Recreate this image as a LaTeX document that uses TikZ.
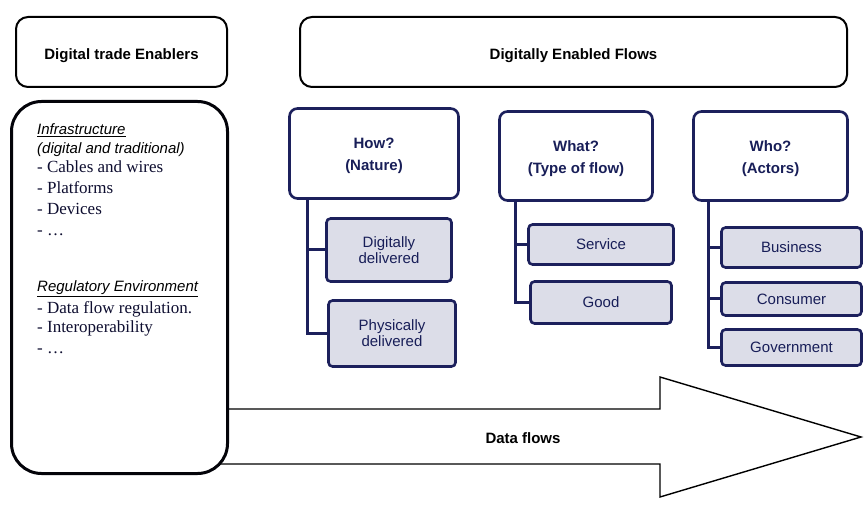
\documentclass[tikz,border=0pt]{standalone}
\usepackage{fontspec}
\setmainfont{Liberation Sans}
\newfontfamily\listserif{Liberation Serif}
\definecolor{navy}{RGB}{28,32,92}
\definecolor{leaffill}{RGB}{220,221,232}
\definecolor{navytext}{RGB}{24,30,88}
\definecolor{listtext}{RGB}{14,14,48}
\tikzset{
  titlebox/.style={draw=black, line width=2pt, rounded corners=12pt, fill=white,
    text height=15pt, text depth=0pt,
    font=\fontsize{15}{17}\selectfont\bfseries},
  enablerbox/.style={draw=black!90!navy, line width=3pt, rounded corners=30pt, fill=white},
  qbox/.style={draw=navy, line width=2.6pt, rounded corners=8pt, fill=white,
    text height=35pt, text depth=0pt,
    text=navytext, align=center, font=\fontsize{15}{22}\selectfont\bfseries},
  leaf/.style={draw=navy, line width=2.6pt, rounded corners=4pt, fill=leaffill,
    text=navytext, align=center, font=\fontsize{15}{16}\selectfont},
  branch/.style={draw=navy, line width=3pt},
  headtext/.style={anchor=base west, inner sep=0pt, font=\fontsize{15}{17}\selectfont\itshape},
  listline/.style={anchor=base west, inner sep=0pt, text=listtext,
    font=\fontsize{17}{20}\selectfont\listserif},
  flowarrow/.style={draw=black, line width=1.4pt, fill=white, line join=miter}
}
\begin{document}
\begin{tikzpicture}[x=1pt,y=-1pt]
\useasboundingbox (0,0) rectangle (864,510);

% the broad data-flow arrow, its tail tucked under the enablers panel
\draw[flowarrow] (150,409) -- (660,409) -- (660,377) -- (861,437)
  -- (660,497) -- (660,464) -- (150,464) -- cycle;
\node[inner sep=0pt, font=\fontsize{15}{17}\selectfont\bfseries] (dataflows) at (523,438.6) {Data flows};

% column headers
\node[titlebox, minimum width=211pt, minimum height=70pt] (enablers) at (121.5,52) {Digital trade Enablers};
\node[titlebox, minimum width=547pt, minimum height=70pt] (flows) at (573.5,52) {Digitally Enabled Flows};

% enablers panel
\node[enablerbox, minimum width=216pt, minimum height=372pt] (infra) at (119.5,287.5) {};
\node[headtext] (infrahead) at (37,135) {\underline{Infrastructure}};
\node[headtext] (infrasub) at (37,154) {(digital and traditional)};
\node[listline] (cables) at (37,173) {- Cables and wires};
\node[listline] (platforms) at (37,194) {- Platforms};
\node[listline] (devices) at (37,215) {- Devices};
\node[listline] (infradots) at (37,236) {- \dots};
\node[headtext] (reghead) at (37,292) {\underline{Regulatory Environment}};
\node[listline] (dataflowreg) at (37,313) {- Data flow regulation.};
\node[listline] (interop) at (37,333) {- Interoperability};
\node[listline] (regdots) at (37,353) {- \dots};

% question boxes
\node[qbox, minimum width=169pt, minimum height=90pt] (how) at (374,153.5) {How?\\(Nature)};
\node[qbox, minimum width=153pt, minimum height=89pt] (what) at (576,156) {What?\\(Type of flow)};
\node[qbox, minimum width=154pt, minimum height=89pt] (who) at (770.5,156) {Who?\\(Actors)};

% answers
\node[leaf, minimum width=125pt, minimum height=63pt] (digital) at (389,250) {Digitally\\delivered};
\node[leaf, minimum width=127pt, minimum height=66pt] (physical) at (392,333.5) {Physically\\delivered};
\node[leaf, minimum width=145pt, minimum height=40pt] (service) at (601,244.5) {Service};
\node[leaf, minimum width=141pt, minimum height=42pt] (good) at (601,302.5) {Good};
\node[leaf, minimum width=140pt, minimum height=40pt] (business) at (791.5,247.5) {Business};
\node[leaf, minimum width=140pt, minimum height=33pt] (consumer) at (791.5,299) {Consumer};
\node[leaf, minimum width=140pt, minimum height=36pt] (government) at (791.5,347.5) {Government};

% tree connectors
\draw[branch] ([xshift=19pt]how.south west) |- (digital.west);
\draw[branch] ([xshift=19pt]how.south west) |- (physical.west);
\draw[branch] ([xshift=17pt]what.south west) |- (service.west);
\draw[branch] ([xshift=17pt]what.south west) |- (good.west);
\draw[branch] ([xshift=16pt]who.south west) |- (business.west);
\draw[branch] ([xshift=16pt]who.south west) |- (consumer.west);
\draw[branch] ([xshift=16pt]who.south west) |- (government.west);
\end{tikzpicture}
\end{document}
